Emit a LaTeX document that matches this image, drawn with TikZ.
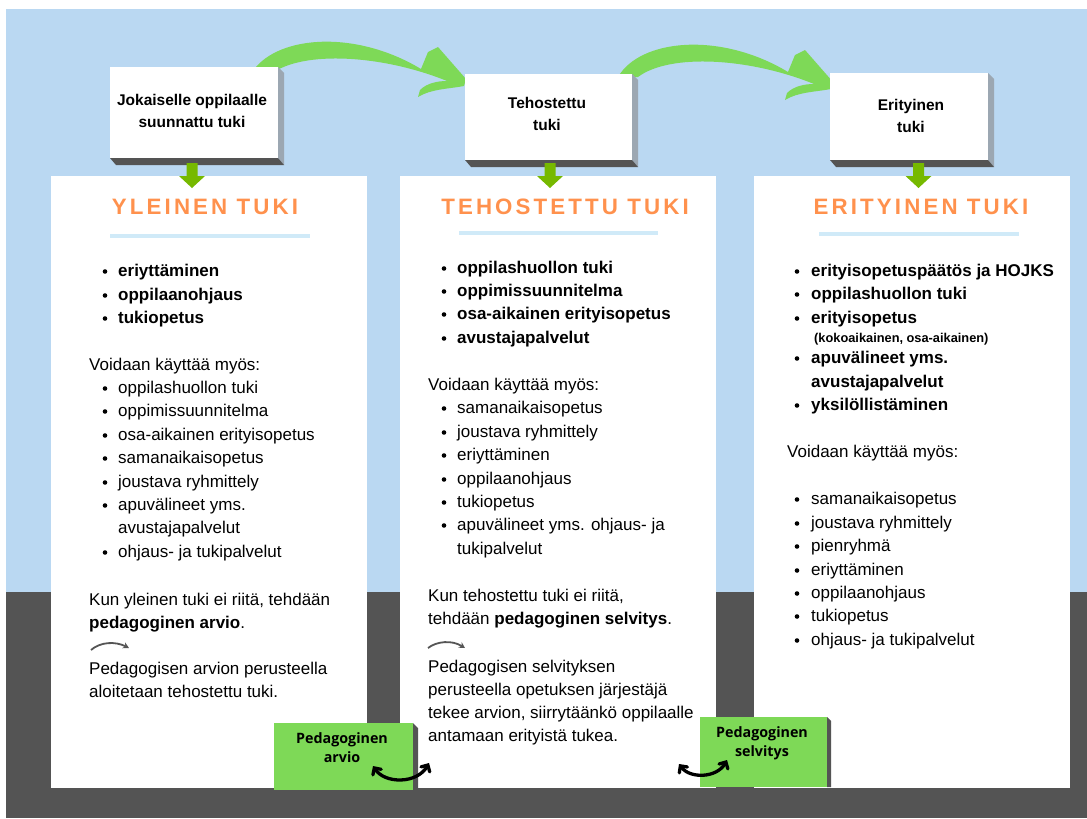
\documentclass[tikz,border=0pt]{standalone}
\usepackage{fontspec}
\setmainfont{Liberation Sans}
\newfontfamily\titlefont[LetterSpace=14]{Liberation Sans}
\newfontfamily\boxfont{Open Sans}
\usetikzlibrary{arrows.meta}
\definecolor{bgblue}{RGB}{186,216,242}
\definecolor{darkbg}{RGB}{84,84,84}
\definecolor{orangetitle}{RGB}{255,145,77}
\definecolor{ulblue}{RGB}{208,234,248}
\definecolor{lgreen}{RGB}{126,217,87}
\definecolor{dgreen}{RGB}{118,185,0}
\definecolor{sidegray}{RGB}{156,167,178}
\definecolor{arrgray}{RGB}{85,85,85}
\newcommand\dotb[2]{\fill (#1,#2-4.5) circle (2.3);}
\newcommand\bigarrow[1]{%
\begin{scope}[shift={#1}]
\fill[lgreen] (-212,-8) .. controls (-190,-46) and (-110,-54) .. (-42,-13)
 -- (-35,-30) -- (-25,-35) -- (3,-3) -- (1,4)
 .. controls (-15,7) and (-32,7) .. (-45,15)
 -- (-43,8) .. controls (-36,1) and (-25,-1) .. (-16,-1)
 .. controls (-80,-27) and (-160,-32) .. (-192,-8) -- cycle;
\end{scope}}
\newcommand\grnarrow[1]{%
\fill[dgreen] (#1-5.5,163) -- (#1+5.5,163) -- (#1+5.5,176) -- (#1+13,176) -- (#1,188) -- (#1-13,176) -- (#1-5.5,176) -- cycle;}
\begin{document}
\begin{tikzpicture}[x=1pt,y=-1pt,
  tx/.style={anchor=base west, inner sep=0, font=\fontsize{17}{20}\selectfont},
  bx/.style={anchor=base west, inner sep=0, font=\fontsize{17}{20}\selectfont\bfseries},
  sx/.style={anchor=base west, inner sep=0, font=\fontsize{12.8}{15}\selectfont\bfseries},
  ht/.style={anchor=base, inner sep=0, font=\fontsize{15.5}{20}\selectfont\bfseries},
  tt/.style={anchor=base, inner sep=0, text=orangetitle, font=\fontsize{22.3}{26}\titlefont\bfseries},
  gt/.style={anchor=base, inner sep=0, font=\fontsize{14.3}{18}\boxfont\bfseries},
  panel/.style={fill=white, inner sep=0, minimum width=316, minimum height=612},
  hbox/.style={fill=white, inner sep=0},
  gbox/.style={fill=lgreen, inner sep=0},
  smallarr/.style={arrgray, line width=1.8, -{Stealth[length=6,width=6.5]}},
  dblarr/.style={black, line width=3.3, line cap=round, {Straight Barb[length=5,width=10,line cap=round]}-{Straight Barb[length=5,width=10,line cap=round]}},
]
\useasboundingbox (0,0) rectangle (1087,819);
\fill[white] (0,0) rectangle (1087,819);
\fill[bgblue] (6,9) rectangle (1087,592);
\fill[darkbg] (6,592) rectangle (1087,818);

% big curved arrows
\bigarrow{(463,82)}
\bigarrow{(830,85)}

% header boxes
\fill[sidegray] (278,67) -- (284,73) -- (284,165) -- (278,158) -- cycle;
\fill[darkbg] (110,158) -- (278,158) -- (284,165) -- (116,165) -- cycle;
\node[hbox, minimum width=168, minimum height=91] (h1) at (194,112.5) {};
\node[ht] (h1a) at (192,105) {Jokaiselle oppilaalle};
\node[ht] (h1b) at (192,127) {suunnattu tuki};

\fill[sidegray] (632,74) -- (638,80) -- (638,167) -- (632,160) -- cycle;
\fill[darkbg] (465,160) -- (632,160) -- (638,167) -- (471,167) -- cycle;
\node[hbox, minimum width=167, minimum height=86] (h2) at (548.5,117) {};
\node[ht] (h2a) at (547,108) {Tehostettu};
\node[ht] (h2b) at (547,130) {tuki};

\fill[sidegray] (988,73) -- (994,79) -- (994,167) -- (988,160) -- cycle;
\fill[darkbg] (830,160) -- (988,160) -- (994,167) -- (836,167) -- cycle;
\node[hbox, minimum width=158, minimum height=87] (h3) at (909,116.5) {};
\node[ht] (h3a) at (911,110) {Erityinen};
\node[ht] (h3b) at (911,132) {tuki};

% panels
\node[panel] (p1) at (209,482) {};
\node[panel] (p2) at (558,482) {};
\node[panel] (p3) at (912,482) {};

% down arrows
\grnarrow{192}
\grnarrow{550}
\grnarrow{918.5}

% titles
\node[tt] (t1) at (205,214) {YLEINEN TUKI};
\node[tt] (t2) at (565,214) {TEHOSTETTU TUKI};
\node[tt] (t3) at (921,214) {ERITYINEN TUKI};
\fill[ulblue] (110,234) rectangle (310,238);
\fill[ulblue] (459,231) rectangle (658,235);
\fill[ulblue] (819,232) rectangle (1019,236);

% panel 1
\dotb{105}{276}\node[bx] (a1) at (118,276) {eriyttäminen};
\dotb{105}{300}\node[bx] (a2) at (118,300) {oppilaanohjaus};
\dotb{105}{323}\node[bx] (a3) at (118,323) {tukiopetus};
\node[tx] (a4) at (89,370) {Voidaan käyttää myös:};
\dotb{105}{393}\node[tx] (a5) at (118,393) {oppilashuollon tuki};
\dotb{105}{416}\node[tx] (a6) at (118,416) {oppimissuunnitelma};
\dotb{105}{440}\node[tx] (a7) at (118,440) {osa-aikainen erityisopetus};
\dotb{105}{463}\node[tx] (a8) at (118,463) {samanaikaisopetus};
\dotb{105}{487}\node[tx] (a9) at (118,487) {joustava ryhmittely};
\dotb{105}{510}\node[tx] (a10) at (118,510) {apuvälineet yms.};
\node[tx] (a11) at (118,533) {avustajapalvelut};
\dotb{105}{557}\node[tx] (a12) at (118,557) {ohjaus- ja tukipalvelut};
\node[tx] (a13) at (89,605) {Kun yleinen tuki ei riitä, tehdään};
\node[tx] (a14) at (89,628) {{\bfseries pedagoginen arvio}.};
\coordinate (s1a) at (91,650);
\coordinate (s1b) at (129,648);
\draw[smallarr] (s1a) .. controls (100,642) and (115,641) .. (s1b);
\node[tx] (a15) at (89,674) {Pedagogisen arvion perusteella};
\node[tx] (a16) at (89,697) {aloitetaan tehostettu tuki.};

% panel 2
\dotb{444}{273}\node[bx] (b1) at (457,273) {oppilashuollon tuki};
\dotb{444}{296}\node[bx] (b2) at (457,296) {oppimissuunnitelma};
\dotb{444}{319}\node[bx] (b3) at (457,319) {osa-aikainen erityisopetus};
\dotb{444}{343}\node[bx] (b4) at (457,343) {avustajapalvelut};
\node[tx] (b5) at (428,390) {Voidaan käyttää myös:};
\dotb{444}{413}\node[tx] (b6) at (457,413) {samanaikaisopetus};
\dotb{444}{437}\node[tx] (b7) at (457,437) {joustava ryhmittely};
\dotb{444}{460}\node[tx] (b8) at (457,460) {eriyttäminen};
\dotb{444}{484}\node[tx] (b9) at (457,484) {oppilaanohjaus};
\dotb{444}{507}\node[tx] (b10) at (457,507) {tukiopetus};
\dotb{444}{530}\node[tx] (b11) at (457,530) {apuvälineet yms. ohjaus- ja};
\node[tx] (b12) at (457,554) {tukipalvelut};
\node[tx] (b13) at (428,601) {Kun tehostettu tuki ei riitä,};
\node[tx] (b14) at (428,624) {tehdään {\bfseries pedagoginen selvitys}.};
\coordinate (s2a) at (428,648);
\coordinate (s2b) at (465,648);
\draw[smallarr] (s2a) .. controls (437,641) and (452,640) .. (s2b);
\node[tx] (b15) at (428,672) {Pedagogisen selvityksen};
\node[tx] (b16) at (428,695) {perusteella opetuksen järjestäjä};
\node[tx] (b17) at (428,718) {tekee arvion, siirrytäänkö oppilaalle};
\node[tx] (b18) at (428,741) {antamaan erityistä tukea.};

% panel 3
\dotb{797}{276}\node[bx] (c1) at (811,276) {erityisopetuspäätös ja HOJKS};
\dotb{797}{299}\node[bx] (c2) at (811,299) {oppilashuollon tuki};
\dotb{797}{323}\node[bx] (c3) at (811,323) {erityisopetus};
\node[sx] (c4) at (814,342) {(kokoaikainen, osa-aikainen)};
\dotb{797}{363}\node[bx] (c5) at (811,363) {apuvälineet yms.};
\node[bx] (c6) at (811,387) {avustajapalvelut};
\dotb{797}{410}\node[bx] (c7) at (811,410) {yksilöllistäminen};
\node[tx] (c8) at (787,457) {Voidaan käyttää myös:};
\dotb{797}{504}\node[tx] (c9) at (811,504) {samanaikaisopetus};
\dotb{797}{528}\node[tx] (c10) at (811,528) {joustava ryhmittely};
\dotb{797}{551}\node[tx] (c11) at (811,551) {pienryhmä};
\dotb{797}{575}\node[tx] (c12) at (811,575) {eriyttäminen};
\dotb{797}{598}\node[tx] (c13) at (811,598) {oppilaanohjaus};
\dotb{797}{621}\node[tx] (c14) at (811,621) {tukiopetus};
\dotb{797}{645}\node[tx] (c15) at (811,645) {ohjaus- ja tukipalvelut};

% green boxes
\fill[darkbg] (413,723) -- (418,728) -- (418,790) -- (413,790) -- cycle;
\node[gbox, minimum width=139, minimum height=67] (g1) at (343.5,756.5) {};
\node[gt] (g1a) at (342,743) {Pedagoginen};
\node[gt] (g1b) at (342,762) {arvio};
\fill[darkbg] (827,717) -- (831,721) -- (831,787) -- (827,787) -- cycle;
\node[gbox, minimum width=127, minimum height=70] (g2) at (763.5,752) {};
\node[gt] (g2a) at (762,737) {Pedagoginen};
\node[gt] (g2b) at (762,756) {selvitys};

% double arrows
\coordinate (d1a) at (373,766);
\coordinate (d1b) at (429,763);
\draw[dblarr] (d1a) .. controls (385,784) and (417,784) .. (d1b);
\coordinate (d2a) at (679,764);
\coordinate (d2b) at (727,760);
\draw[dblarr] (d2a) .. controls (690,779) and (717,778) .. (d2b);
\end{tikzpicture}
\end{document}
